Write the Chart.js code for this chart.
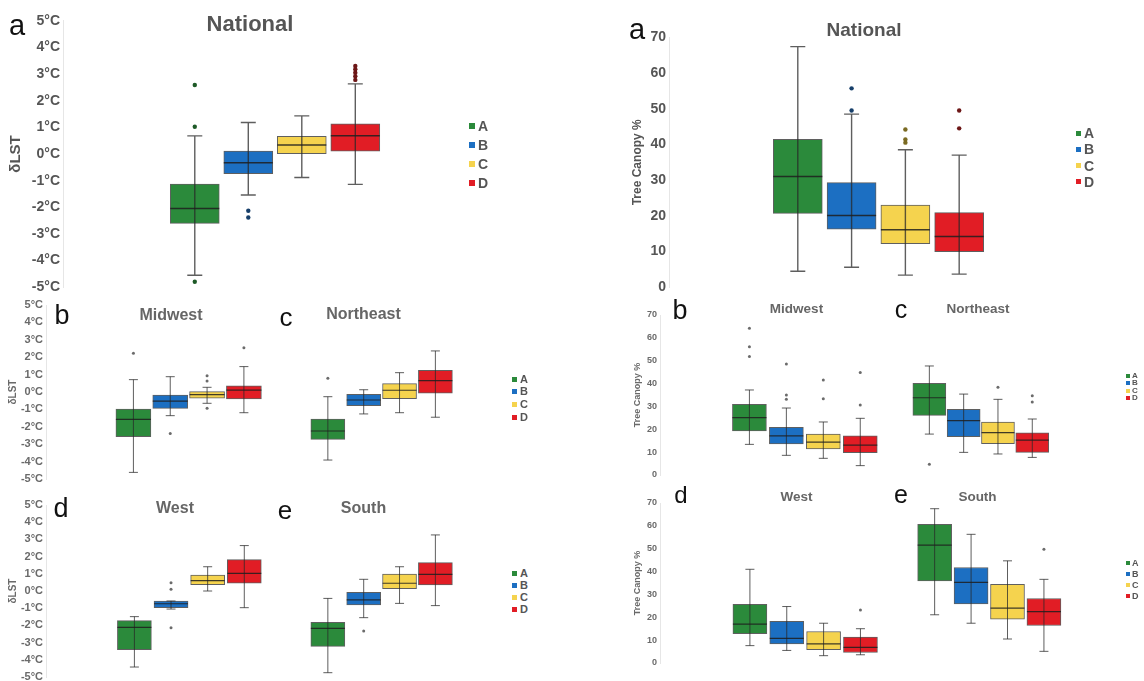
<!DOCTYPE html>
<html>
<head>
<meta charset="utf-8">
<title>dLST and tree canopy by class</title>
<script src="https://cdn.jsdelivr.net/npm/chart.js"></script>
<style>
  body { margin: 0; background: #fff; overflow: hidden; }
  #page { position: relative; width: 1144px; height: 681px; font-family: "Liberation Sans", Arial, sans-serif; }
  #page canvas { position: absolute; }
  .txt { position: absolute; transform: translate(-50%, -50%); line-height: 1; white-space: nowrap; }
  .leg { position: absolute; display: flex; align-items: center; font-weight: bold; color: #555; line-height: 1; }
</style>
</head>
<body>
<div id="page"></div>
<script>
const categories = ['A', 'B', 'C', 'D'];
const boxColors = ['#2b8a3b', '#1c6fc2', '#f5d34e', '#e11d25'];
const dotColors = ['#1e5a27', '#173f6a', '#7a6a22', '#6d1717'];

// y ranges / tick steps
const lstRange = [-5, 5, 1];
const canopyRange = [0, 70, 10];

// rows per category: [low whisker, Q1, median, Q3, high whisker]
const lstNational = [
    [-4.55, -2.60, -2.04, -1.13, 0.68],
    [-1.54, -0.74, -0.33, 0.11, 1.18],
    [-0.88, 0.01, 0.34, 0.66, 1.43],
    [-1.14, 0.11, 0.68, 1.13, 2.63]
];
const lstNationalOut = [[2.59, 1.02, -4.79], [-2.13, -2.38], [], [2.78, 2.92, 3.05, 3.18, 3.30]];

const lstMidwest = [
    [-4.62, -2.57, -1.57, -0.98, 0.71],
    [-1.36, -0.94, -0.52, -0.17, 0.88],
    [-0.65, -0.36, -0.15, 0.02, 0.27],
    [-1.19, -0.40, 0.11, 0.36, 1.46]
];
const lstMidwestOut = [[2.22], [-2.38], [0.94, 0.63, -0.94], [2.55]];

const lstNortheast = [
    [-3.91, -2.72, -2.24, -1.55, -0.27],
    [-1.26, -0.79, -0.46, -0.13, 0.13],
    [-1.19, -0.38, 0.10, 0.48, 1.11],
    [-1.45, -0.07, 0.65, 1.25, 2.36]
];
const lstNortheastOut = [[0.79], [], [], []];

const lstWest = [
    [-4.42, -3.41, -2.11, -1.72, -1.49],
    [-1.05, -0.97, -0.74, -0.58, -0.58],
    [0.00, 0.37, 0.60, 0.93, 1.41],
    [-0.97, 0.45, 1.03, 1.82, 2.64]
];
const lstWestOut = [[], [0.48, 0.10, -2.13], [], []];

const lstSouth = [
    [-4.75, -3.22, -2.17, -1.82, -0.43],
    [-1.55, -0.81, -0.52, -0.08, 0.68],
    [-0.72, 0.14, 0.45, 0.99, 1.41],
    [-0.85, 0.35, 0.97, 1.65, 3.26]
];
const lstSouthOut = [[], [-2.33], [], []];

const canopyNational = [
    [4.5, 20.7, 31.0, 41.4, 67.4],
    [5.6, 16.3, 20.1, 29.3, 48.5],
    [3.4, 12.2, 16.1, 23.0, 38.5],
    [3.7, 10.0, 14.2, 20.9, 37.0]
];
const canopyNationalOut = [[], [55.7, 49.5], [44.2, 41.4, 40.5], [49.5, 44.5]];

const canopyMidwest = [
    [13.4, 19.3, 25.1, 30.9, 37.2],
    [8.6, 13.6, 17.1, 20.9, 29.3],
    [7.3, 11.4, 14.4, 17.9, 23.2],
    [4.1, 9.8, 13.1, 17.1, 24.8]
];
const canopyMidwestOut = [[64.2, 56.1, 51.8], [48.6, 35.0, 33.1], [41.6, 33.4], [44.8, 30.6]];

const canopyNortheast = [
    [17.9, 26.1, 33.8, 40.1, 47.7],
    [9.9, 16.8, 23.8, 28.7, 35.4],
    [9.2, 13.7, 18.5, 23.2, 33.1],
    [7.7, 9.9, 15.3, 18.5, 24.5]
];
const canopyNortheastOut = [[4.7], [], [38.4], [34.7, 31.9]];

const canopyWest = [
    [7.6, 12.8, 17.0, 25.7, 41.0],
    [5.5, 8.4, 10.8, 18.2, 24.7],
    [3.2, 5.8, 8.4, 13.8, 17.4],
    [3.6, 4.6, 6.8, 11.3, 15.0]
];
const canopyWestOut = [[], [], [], [23.2]];

const canopySouth = [
    [21.1, 35.9, 51.6, 60.7, 67.5],
    [17.4, 25.9, 35.3, 41.8, 56.3],
    [10.5, 19.2, 24.0, 34.4, 44.7],
    [5.1, 16.4, 22.5, 28.2, 36.6]
];
const canopySouthOut = [[], [], [], [49.8]];

const FONT = '"Liberation Sans", Arial, sans-serif';

// panel layout (pixels)
const panels = [
    { rows: lstNational, out: lstNationalOut, kind: 'lst', big: true,
      left: 0, top: 0, w: 500, h: 300, axisX: 63, plotTop: 20.7, plotBottom: 287.3,
      firstCenter: 196, spacing: 54, bar: 49,
      title: ['National', 250, 24, 22], letter: ['a', 17, 25, 29],
      legend: [469, 126, 19, 6, 14] },
    { rows: canopyNational, out: canopyNationalOut, kind: 'canopy', big: true,
      left: 620, top: 0, w: 480, h: 300, axisX: 669, plotTop: 37.3, plotBottom: 287.3,
      firstCenter: 799, spacing: 54.3, bar: 49,
      title: ['National', 864, 29, 19], letter: ['a', 637, 29, 29],
      legend: [1076, 133, 16.3, 5, 14] },
    { rows: lstMidwest, out: lstMidwestOut, kind: 'lst',
      left: 0, top: 290, w: 270, h: 200, axisX: 46, plotTop: 305, plotBottom: 479,
      firstCenter: 135, spacing: 37.5, bar: 35,
      title: ['Midwest', 171, 315, 16], letter: ['b', 62, 315, 27] },
    { rows: lstNortheast, out: lstNortheastOut, kind: 'lst',
      left: 280, top: 290, w: 220, h: 200, plotTop: 305, plotBottom: 479,
      firstCenter: 325.5, spacing: 37.2, bar: 34,
      title: ['Northeast', 363.5, 314, 16], letter: ['c', 286, 317, 26],
      legend: [512, 379, 12.7, 5, 11] },
    { rows: lstWest, out: lstWestOut, kind: 'lst',
      left: 0, top: 490, w: 270, h: 200, axisX: 46, plotTop: 505, plotBottom: 677,
      firstCenter: 136, spacing: 37.3, bar: 34,
      title: ['West', 175, 508, 16], letter: ['d', 61, 508, 27] },
    { rows: lstSouth, out: lstSouthOut, kind: 'lst',
      left: 280, top: 490, w: 220, h: 200, plotTop: 505, plotBottom: 677,
      firstCenter: 325.5, spacing: 37.2, bar: 34,
      title: ['South', 363.5, 508, 16], letter: ['e', 285, 510, 26],
      legend: [512, 573, 12.3, 5, 11] },
    { rows: canopyMidwest, out: canopyMidwestOut, kind: 'canopy',
      left: 625, top: 290, w: 265, h: 200, axisX: 660, plotTop: 315, plotBottom: 475,
      firstCenter: 751, spacing: 37.6, bar: 34,
      title: ['Midwest', 796.5, 309, 13.5], letter: ['b', 680, 310, 27] },
    { rows: canopyNortheast, out: canopyNortheastOut, kind: 'canopy',
      left: 895, top: 290, w: 220, h: 200, plotTop: 315, plotBottom: 475,
      firstCenter: 926.5, spacing: 35.6, bar: 33,
      title: ['Northeast', 978, 309, 13.5], letter: ['c', 901, 309, 25],
      legend: [1126, 376, 7.3, 4, 8] },
    { rows: canopyWest, out: canopyWestOut, kind: 'canopy',
      left: 625, top: 480, w: 265, h: 200, axisX: 660, plotTop: 503, plotBottom: 663,
      firstCenter: 751.5, spacing: 37.5, bar: 34,
      title: ['West', 796.5, 497, 13.5], letter: ['d', 681, 495, 24] },
    { rows: canopySouth, out: canopySouthOut, kind: 'canopy',
      left: 895, top: 480, w: 220, h: 200, plotTop: 503, plotBottom: 663,
      firstCenter: 932, spacing: 37.8, bar: 34,
      title: ['South', 977.5, 497, 13.5], letter: ['e', 901, 494, 25],
      legend: [1126, 563, 11, 4, 9] }
];

function whiskerPlugin(rows, bar, cap, big) {
    return {
        id: 'boxWhiskers',
        afterDatasetsDraw(chart) {
            const { ctx, scales: { x, y } } = chart;
            ctx.save();
            rows.forEach((r, i) => {
                const cx = x.getPixelForValue(i);
                const [lo, , med, , hi] = r.map(v => y.getPixelForValue(v));
                ctx.strokeStyle = 'rgba(40,40,40,0.75)';
                ctx.lineWidth = big ? 1.4 : 1;
                ctx.beginPath();
                ctx.moveTo(cx, lo); ctx.lineTo(cx, hi);
                ctx.moveTo(cx - cap / 2, lo); ctx.lineTo(cx + cap / 2, lo);
                ctx.moveTo(cx - cap / 2, hi); ctx.lineTo(cx + cap / 2, hi);
                ctx.stroke();
                ctx.strokeStyle = 'rgba(30,30,30,0.85)';
                ctx.lineWidth = big ? 1.5 : 1.2;
                ctx.beginPath();
                ctx.moveTo(cx - bar / 2, med); ctx.lineTo(cx + bar / 2, med);
                ctx.stroke();
            });
            ctx.restore();
        }
    };
}

function addText(page, text, x, y, size, css) {
    const el = document.createElement('div');
    el.className = 'txt';
    el.textContent = text;
    el.style.left = x + 'px';
    el.style.top = y + 'px';
    el.style.fontSize = size + 'px';
    el.style.cssText += css;
    page.appendChild(el);
}

function addLegend(page, [x, y, dy, box, size]) {
    categories.forEach((c, i) => {
        const row = document.createElement('div');
        row.className = 'leg';
        row.style.left = x + 'px';
        row.style.top = (y + i * dy - size / 2) + 'px';
        row.style.height = size + 'px';
        row.style.fontSize = size + 'px';
        const sq = document.createElement('span');
        sq.style.cssText = `display:inline-block;width:${box}px;height:${box}px;background:${boxColors[i]};margin-right:${Math.round(box * 0.5)}px`;
        row.appendChild(sq);
        row.appendChild(document.createTextNode(c));
        page.appendChild(row);
    });
}

function makePanel(page, p) {
    const canvas = document.createElement('canvas');
    canvas.width = p.w;
    canvas.height = p.h;
    canvas.style.left = p.left + 'px';
    canvas.style.top = p.top + 'px';
    page.appendChild(canvas);

    const isLst = p.kind === 'lst';
    const [yMin, yMax, step] = isLst ? lstRange : canopyRange;
    const showAxis = p.axisX !== undefined;
    const axisWidth = showAxis ? p.axisX - p.left : 0;
    const plotLeft = p.left + axisWidth;
    const plotRight = p.left + p.w;
    const xMin = -(p.firstCenter - plotLeft) / p.spacing;
    const xMax = xMin + (plotRight - plotLeft) / p.spacing;

    let tickSize, titleSize, titlePad, tickColor;
    if (p.big) {
        tickSize = 14; tickColor = '#555';
        titleSize = isLst ? 15 : 12;
        titlePad = isLst ? 7 : 10;
    } else {
        tickSize = isLst ? 11 : 9; tickColor = '#6a6a6a';
        titleSize = isLst ? 10 : 9;
        titlePad = isLst ? 7 : 7.5;
    }

    const outliers = p.out.flatMap((vals, i) => vals.map(v => ({ x: i, y: v })));

    new Chart(canvas, {
        type: 'bar',
        data: {
            datasets: [{
                type: 'scatter',
                data: outliers,
                pointRadius: p.big ? 2.2 : 1.5,
                pointBorderWidth: 0,
                pointBackgroundColor: ctx => p.big ? dotColors[ctx.raw.x] : 'rgba(70,70,70,0.8)',
                clip: false
            }, {
                type: 'bar',
                data: p.rows.map((r, i) => ({ x: i, y: [r[1], r[3]] })),
                backgroundColor: boxColors,
                borderColor: 'rgba(55,55,55,0.8)',
                borderWidth: 1,
                borderSkipped: false,
                barThickness: p.bar
            }]
        },
        options: {
            responsive: false,
            animation: false,
            events: [],
            layout: {
                padding: { left: 0, right: 0, top: p.plotTop - p.top, bottom: p.top + p.h - p.plotBottom }
            },
            plugins: {
                legend: { display: false },
                tooltip: { enabled: false }
            },
            scales: {
                x: {
                    type: 'linear',
                    display: false,
                    offset: false,
                    min: xMin,
                    max: xMax
                },
                y: {
                    display: showAxis,
                    min: yMin,
                    max: yMax,
                    grid: { display: false, drawTicks: false },
                    border: { display: true, color: '#e6e6e6', width: 1 },
                    ticks: {
                        stepSize: step,
                        autoSkip: false,
                        padding: 3,
                        color: tickColor,
                        font: { family: FONT, size: tickSize, weight: 'bold' },
                        callback: v => isLst ? `${v}°C` : `${v}`
                    },
                    title: {
                        display: true,
                        text: isLst ? 'δLST' : 'Tree Canopy %',
                        color: tickColor,
                        font: { family: FONT, size: titleSize, weight: 'bold' },
                        padding: { top: titlePad, bottom: 0 }
                    },
                    afterFit: scale => { scale.width = axisWidth; }
                }
            }
        },
        plugins: [whiskerPlugin(p.rows, p.bar, p.big ? 15 : 9, p.big)]
    });

    const [tText, tx, ty, tSize] = p.title;
    addText(page, tText, tx, ty, tSize, `font-weight:bold;color:${p.big ? '#555' : '#666'};`);
    const [lText, lx, ly, lSize] = p.letter;
    addText(page, lText, lx, ly, lSize, 'color:#111;');
    if (p.legend) addLegend(page, p.legend);
}

document.addEventListener('DOMContentLoaded', () => {
    try {
        const page = document.getElementById('page');
        panels.forEach(p => makePanel(page, p));
    } catch (error) {
        console.error('Error building charts:', error);
    }
});
</script>
</body>
</html>
